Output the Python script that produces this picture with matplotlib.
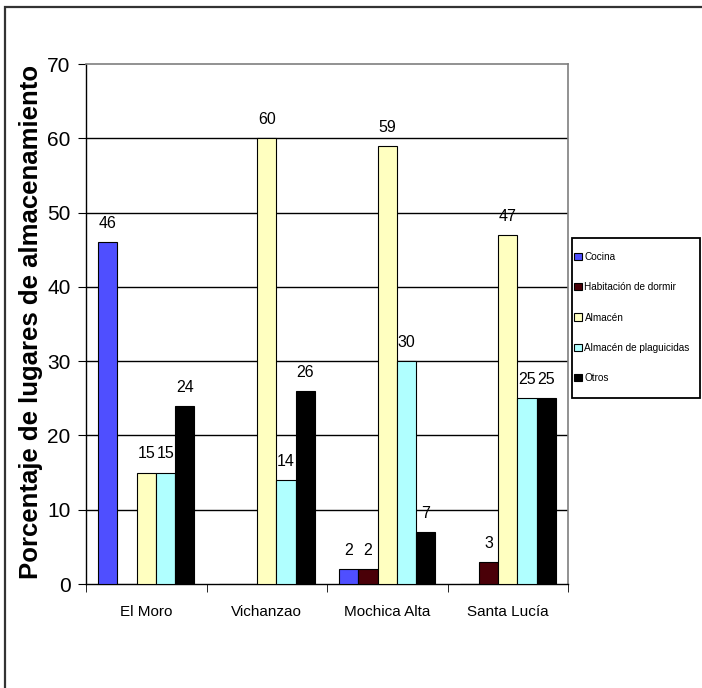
import matplotlib
matplotlib.use("Agg")
import matplotlib.pyplot as plt
import numpy as np
from matplotlib.patches import Rectangle

sites = ["El Moro", "Vichanzao", "Mochica Alta", "Santa Lucía"]
series_names = ["Cocina", "Habitación de dormir", "Almacén",
                "Almacén de plaguicidas", "Otros"]
cocina = [46, 0, 2, 0]
habitacion = [0, 0, 2, 3]
almacen = [15, 60, 59, 47]
almacen_plag = [15, 14, 30, 25]
otros = [24, 26, 7, 25]
series_values = [cocina, habitacion, almacen, almacen_plag, otros]
colors = ["#4F4FFF", "#4A0008", "#FFFFC0", "#B0FFFF", "#000000"]
y_ticks = [0, 10, 20, 30, 40, 50, 60, 70]

font = ["Liberation Sans", "DejaVu Sans"]

fig = plt.figure(figsize=(7.02, 6.88), dpi=100)
ax = fig.add_axes([86 / 702, 1 - 584 / 688, (568 - 86) / 702, (584 - 64) / 688])

x = np.arange(len(sites))
w = 0.16
for i, (vals, col, name) in enumerate(zip(series_values, colors, series_names)):
    pos = x + (i - 2) * w
    bars = ax.bar(pos, vals, width=w, color=col, edgecolor="black",
                  linewidth=0.8, label=name, zorder=3)
    for b, v in zip(bars, vals):
        if v > 0:
            ax.annotate(str(v), (b.get_x() + b.get_width() / 2, v),
                        xytext=(0, 8), textcoords="offset points",
                        ha="center", va="bottom", fontsize=11.5,
                        family=font, zorder=4)

ax.set_xlim(-0.5, len(sites) - 0.5)
ax.set_ylim(0, 70)
ax.set_yticks(y_ticks)
ax.set_yticklabels([str(t) for t in y_ticks], fontsize=15, family=font)
ax.set_xticks(x)
ax.set_xticklabels(sites, fontsize=11, family=font)
ax.tick_params(axis="x", length=0, pad=15)
ax.set_xticks(np.arange(len(sites) + 1) - 0.5, minor=True)
ax.tick_params(axis="x", which="minor", length=6, direction="out", color="black")
ax.tick_params(axis="y", length=6, direction="out", color="black", pad=5)

for v in y_ticks[1:-1]:
    ax.axhline(v, color="black", linewidth=1.0, zorder=1)

for side in ["left", "bottom"]:
    ax.spines[side].set_color("black")
    ax.spines[side].set_linewidth(1.0)
for side in ["top", "right"]:
    ax.spines[side].set_color("#7f7f7f")
    ax.spines[side].set_linewidth(1.2)

fig.text(31 / 702, 1 - 322 / 688, "Porcentaje de lugares de almacenamiento",
         rotation=90, ha="center", va="center", fontsize=18.5,
         fontweight="bold", family=font)

# legend entries, with the box drawn separately
handles, labels = ax.get_legend_handles_labels()
leg = fig.legend(handles, labels, loc="upper left",
                 bbox_to_anchor=(574 / 702, 1 - 252 / 688),
                 bbox_transform=fig.transFigure, frameon=False,
                 prop={"family": font, "size": 7.2},
                 handlelength=0.75, handleheight=0.75, handletextpad=0.3,
                 labelspacing=2.03, borderpad=0, borderaxespad=0)
fig.patches.append(Rectangle((572 / 702, 1 - 398 / 688), 128 / 702, 160 / 688,
                             transform=fig.transFigure, fill=False,
                             edgecolor="black", linewidth=1.3))

# outer frame of the chart area
fig.patches.append(Rectangle((5 / 702, -0.1), 1.2, 1 - 7 / 688 + 0.1,
                             transform=fig.transFigure, fill=False,
                             edgecolor="#333333", linewidth=1.6))

fig.savefig("out.png", dpi=100)
